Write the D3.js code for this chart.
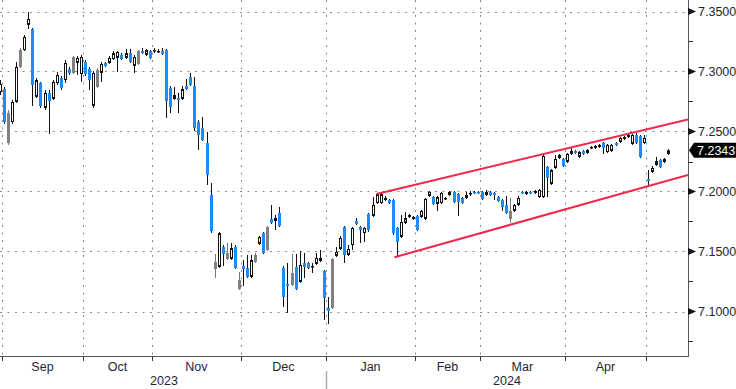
<!DOCTYPE html>
<html>
<head>
<meta charset="utf-8">
<script src="https://cdn.jsdelivr.net/npm/d3@7"></script>
<style>
  body { margin: 0; background: #fff; }
  svg { display: block; font-family: "Liberation Sans", Arial, sans-serif; }
</style>
</head>
<body>
<svg id="chart"></svg>
<script>
// daily candles, [open, high, low, close, kind]  kind: u = hollow, d = blue filled, g = gray filled
const firstIndex = -1;
const candles = [
  [7.2829,7.2929,7.2804,7.2896,"u"],
  [7.2854,7.2871,7.2563,7.2579,"d"],
  [7.2654,7.2679,7.2388,7.2404,"g"],
  [7.2579,7.2763,7.2563,7.2746,"u"],
  [7.2746,7.3079,7.2738,7.3038,"u"],
  [7.3179,7.3196,7.3029,7.3038,"g"],
  [7.3179,7.3304,7.3171,7.3288,"u"],
  [7.3388,7.3496,7.3354,7.3438,"u"],
  [7.3354,7.3363,7.2713,7.2888,"d"],
  [7.2788,7.2946,7.2779,7.2929,"u"],
  [7.2904,7.2913,7.2696,7.2713,"d"],
  [7.2696,7.2846,7.2679,7.2821,"u"],
  [7.2821,7.2846,7.2479,7.2754,"d"],
  [7.2771,7.2929,7.2763,7.2913,"u"],
  [7.2904,7.2996,7.2888,7.2971,"u"],
  [7.2946,7.2963,7.2846,7.2863,"d"],
  [7.2929,7.3096,7.2904,7.3071,"u"],
  [7.3021,7.3038,7.2971,7.2988,"d"],
  [7.3121,7.3129,7.2979,7.2988,"g"],
  [7.3071,7.3129,7.2971,7.3113,"u"],
  [7.2979,7.3138,7.2913,7.3121,"u"],
  [7.3079,7.3096,7.2963,7.2979,"d"],
  [7.3021,7.3038,7.2846,7.2929,"d"],
  [7.2713,7.3004,7.2696,7.2988,"u"],
  [7.3013,7.3029,7.2863,7.2871,"g"],
  [7.2988,7.3079,7.2913,7.3063,"u"],
  [7.3071,7.3079,7.3038,7.3046,"d"],
  [7.3071,7.3129,7.3063,7.3113,"u"],
  [7.3104,7.3171,7.3096,7.3154,"u"],
  [7.3113,7.3171,7.2996,7.3163,"u"],
  [7.3138,7.3154,7.3096,7.3104,"d"],
  [7.3113,7.3188,7.3104,7.3154,"u"],
  [7.3154,7.3188,7.3071,7.3079,"d"],
  [7.3046,7.3138,7.2988,7.3121,"u"],
  [7.3171,7.3179,7.3054,7.3063,"g"],
  [7.3171,7.3196,7.3146,7.3154,"d"],
  [7.3138,7.3188,7.3129,7.3179,"u"],
  [7.3171,7.3179,7.3104,7.3113,"d"],
  [7.3171,7.3196,7.3154,7.3179,"u"],
  [7.3163,7.3188,7.3154,7.3171,"u"],
  [7.3171,7.3196,7.3138,7.3146,"d"],
  [7.3179,7.3188,7.2613,7.2754,"d"],
  [7.2863,7.2879,7.2654,7.2704,"d"],
  [7.2771,7.2871,7.2763,7.2804,"u"],
  [7.2779,7.2821,7.2654,7.2763,"d"],
  [7.2771,7.2879,7.2763,7.2854,"u"],
  [7.2879,7.2938,7.2846,7.2854,"d"],
  [7.2954,7.2988,7.2879,7.2888,"d"],
  [7.2879,7.2954,7.2504,7.2529,"d"],
  [7.2579,7.2596,7.2346,7.2471,"d"],
  [7.2529,7.2621,7.2421,7.2429,"d"],
  [7.2404,7.2496,7.2054,7.2138,"d"],
  [7.1971,7.2071,7.1654,7.1671,"d"],
  [7.1413,7.1479,7.1279,7.1354,"g"],
  [7.1371,7.1663,7.1363,7.1654,"u"],
  [7.1538,7.1554,7.1379,7.1479,"d"],
  [7.1488,7.1571,7.1429,7.1438,"g"],
  [7.1438,7.1571,7.1429,7.1529,"u"],
  [7.1538,7.1554,7.1354,7.1363,"d"],
  [7.1263,7.1329,7.1179,7.1188,"g"],
  [7.1379,7.1429,7.1213,7.1354,"d"],
  [7.1363,7.1471,7.1279,7.1288,"d"],
  [7.1288,7.1471,7.1279,7.1429,"u"],
  [7.1471,7.1488,7.1404,7.1413,"g"],
  [7.1563,7.1629,7.1554,7.1621,"u"],
  [7.1654,7.1663,7.1479,7.1488,"d"],
  [7.1704,7.1713,7.1504,7.1513,"g"],
  [7.1771,7.1888,7.1729,7.1738,"d"],
  [7.1754,7.1804,7.1679,7.1779,"u"],
  [7.1821,7.1871,7.1704,7.1713,"d"],
  [7.1363,7.1379,7.1038,7.1121,"d"],
  [7.1229,7.1404,7.0988,7.1213,"d"],
  [7.1321,7.1479,7.1213,7.1221,"g"],
  [7.1371,7.1479,7.1179,7.1188,"d"],
  [7.1246,7.1504,7.1238,7.1388,"u"],
  [7.1404,7.1488,7.1279,7.1371,"d"],
  [7.1404,7.1413,7.1354,7.1363,"d"],
  [7.1371,7.1404,7.1321,7.1379,"u"],
  [7.1396,7.1488,7.1388,7.1446,"u"],
  [7.1421,7.1513,7.1413,7.1446,"u"],
  [7.1338,7.1346,7.0929,7.1113,"d"],
  [7.1029,7.1121,7.0896,7.1004,"d"],
  [7.1438,7.1446,7.1021,7.1029,"g"],
  [7.1463,7.1538,7.1454,7.1496,"u"],
  [7.1521,7.1629,7.1513,7.1613,"u"],
  [7.1704,7.1713,7.1404,7.1471,"d"],
  [7.1471,7.1554,7.1463,7.1521,"u"],
  [7.1554,7.1704,7.1513,7.1696,"u"],
  [7.1754,7.1779,7.1721,7.1729,"d"],
  [7.1704,7.1713,7.1571,7.1679,"d"],
  [7.1654,7.1704,7.1579,7.1696,"u"],
  [7.1813,7.1821,7.1663,7.1679,"d"],
  [7.1796,7.1954,7.1788,7.1888,"u"],
  [7.1904,7.1988,7.1896,7.1979,"u"],
  [7.1904,7.1988,7.1896,7.1979,"u"],
  [7.1929,7.1963,7.1921,7.1946,"u"],
  [7.1929,7.1938,7.1896,7.1904,"d"],
  [7.1929,7.1938,7.1638,7.1654,"d"],
  [7.1696,7.1704,7.1454,7.1579,"d"],
  [7.1621,7.1804,7.1613,7.1746,"u"],
  [7.1738,7.1829,7.1729,7.1779,"u"],
  [7.1788,7.1813,7.1779,7.1804,"u"],
  [7.1771,7.1796,7.1763,7.1788,"u"],
  [7.1796,7.1804,7.1671,7.1679,"d"],
  [7.1788,7.1846,7.1779,7.1838,"u"],
  [7.1771,7.1946,7.1763,7.1938,"u"],
  [7.1963,7.2004,7.1954,7.1996,"u"],
  [7.1954,7.1963,7.1888,7.1896,"d"],
  [7.1896,7.1963,7.1838,7.1954,"u"],
  [7.1904,7.1996,7.1896,7.1988,"u"],
  [7.1938,7.1954,7.1929,7.1946,"u"],
  [7.1971,7.2004,7.1963,7.1996,"u"],
  [7.1996,7.2004,7.1904,7.1913,"d"],
  [7.1979,7.1988,7.1796,7.1913,"d"],
  [7.1946,7.1954,7.1896,7.1904,"d"],
  [7.1946,7.1996,7.1938,7.1971,"u"],
  [7.1979,7.2004,7.1963,7.1988,"u"],
  [7.1996,7.2004,7.1979,7.1988,"d"],
  [7.1996,7.2004,7.1979,7.1988,"d"],
  [7.1996,7.2004,7.1929,7.1938,"d"],
  [7.1971,7.2013,7.1963,7.1996,"u"],
  [7.1996,7.2004,7.1963,7.1971,"d"],
  [7.1988,7.1996,7.1929,7.1971,"d"],
  [7.1954,7.1963,7.1913,7.1921,"d"],
  [7.1929,7.1938,7.1838,7.1871,"d"],
  [7.1888,7.1963,7.1813,7.1821,"d"],
  [7.1838,7.1946,7.1738,7.1771,"g"],
  [7.1838,7.1896,7.1829,7.1888,"u"],
  [7.1888,7.1963,7.1879,7.1946,"u"],
  [7.1996,7.2004,7.1979,7.1988,"d"],
  [7.1979,7.2004,7.1971,7.1996,"u"],
  [7.1996,7.2004,7.1979,7.1988,"d"],
  [7.1988,7.2013,7.1979,7.2004,"u"],
  [7.1954,7.2021,7.1946,7.2013,"u"],
  [7.1954,7.2304,7.1946,7.2296,"u"],
  [7.2204,7.2213,7.1954,7.2113,"d"],
  [7.2063,7.2188,7.2054,7.2179,"u"],
  [7.2196,7.2304,7.2188,7.2271,"u"],
  [7.2279,7.2313,7.2271,7.2304,"u"],
  [7.2271,7.2279,7.2204,7.2213,"d"],
  [7.2246,7.2321,7.2238,7.2313,"u"],
  [7.2313,7.2363,7.2304,7.2338,"u"],
  [7.2338,7.2346,7.2313,7.2321,"d"],
  [7.2288,7.2338,7.2279,7.2329,"u"],
  [7.2338,7.2346,7.2304,7.2313,"d"],
  [7.2321,7.2354,7.2313,7.2346,"u"],
  [7.2363,7.2379,7.2354,7.2371,"u"],
  [7.2363,7.2388,7.2354,7.2379,"u"],
  [7.2371,7.2396,7.2363,7.2388,"u"],
  [7.2404,7.2413,7.2313,7.2363,"d"],
  [7.2329,7.2396,7.2321,7.2388,"u"],
  [7.2338,7.2396,7.2329,7.2388,"u"],
  [7.2404,7.2413,7.2379,7.2388,"d"],
  [7.2413,7.2454,7.2404,7.2446,"u"],
  [7.2438,7.2463,7.2429,7.2454,"u"],
  [7.2454,7.2479,7.2446,7.2471,"u"],
  [7.2396,7.2479,7.2388,7.2471,"u"],
  [7.2471,7.2488,7.2396,7.2404,"d"],
  [7.2463,7.2471,7.2279,7.2288,"d"],
  [7.2404,7.2471,7.2396,7.2446,"u"],
  [7.2104,7.2179,7.2046,7.2088,"d"],
  [7.2163,7.2213,7.2154,7.2196,"u"],
  [7.2221,7.2288,7.2213,7.2254,"u"],
  [7.2263,7.2271,7.2196,7.2204,"d"],
  [7.2246,7.2279,7.2238,7.2271,"u"],
  [7.2313,7.2354,7.2304,7.2343,"u"]
];

// month boundaries, as index of the first trading day of each month
const monthNames = ["Sep", "Oct", "Nov", "Dec", "Jan", "Feb", "Mar", "Apr"];
const monthStart = [0, 20, 37, 59, 80, 102, 118, 139, 159];
const yearNames = ["2023", "2024"];
const yearStart = [0, 80];
const lastBarSlot = 168.9; // right edge of the plot, in bars

const priceTicks = [7.10, 7.15, 7.20, 7.25, 7.30, 7.35];
const minorTicks = [7.075, 7.125, 7.175, 7.225, 7.275, 7.325];
const lastPrice = 7.2343;

// trend channel drawn on the chart: [bar index, price]
const channelUpper = [[92, 7.1979], [168.9, 7.2600]];
const channelLower = [[96.4, 7.1452], [168.9, 7.2138]];

const width = 736, height = 389;
const plotRight = 688, plotBottom = 356;

const svg = d3.select("#chart").attr("width", width).attr("height", height);

const x = d3.scaleLinear().domain([-0.5, lastBarSlot]).range([2, plotRight]);
const y = d3.scaleLinear().domain([7.10, 7.35]).range([311.5, 11.5]);

svg.append("defs").append("clipPath").attr("id", "plotClip")
  .append("rect").attr("x", 0).attr("y", 0).attr("width", plotRight).attr("height", plotBottom);

// dotted grid
const grid = svg.append("g").attr("stroke", "#8c8c8c").attr("stroke-dasharray", "2,5.5").attr("stroke-width", 1);
grid.selectAll("line.h").data(priceTicks).join("line")
  .attr("x1", 0).attr("x2", plotRight)
  .attr("y1", (d) => Math.round(y(d)) + 0.5).attr("y2", (d) => Math.round(y(d)) + 0.5);
grid.selectAll("line.v").data(monthStart).join("line")
  .attr("x1", (d) => Math.round(x(d - 0.5)) + 0.5).attr("x2", (d) => Math.round(x(d - 0.5)) + 0.5)
  .attr("y1", 0).attr("y2", plotBottom);

// candles
const bars = candles.map((d, k) => ({ i: firstIndex + k, o: d[0], h: d[1], l: d[2], c: d[3], kind: d[4] }));
const cg = svg.append("g").attr("clip-path", "url(#plotClip)");

cg.selectAll("line.wick").data(bars).join("line")
  .attr("class", "wick")
  .attr("x1", (d) => Math.round(x(d.i)) + 0.5).attr("x2", (d) => Math.round(x(d.i)) + 0.5)
  .attr("y1", (d) => y(d.h)).attr("y2", (d) => y(d.l))
  .attr("stroke", (d) => (d.kind === "g" ? "#7a7a7a" : "#111"))
  .attr("stroke-width", 1);

cg.selectAll("rect.body").data(bars).join("rect")
  .attr("class", "body")
  .attr("x", (d) => Math.round(x(d.i)) - (d.kind === "u" ? 0.5 : 1))
  .attr("width", (d) => (d.kind === "u" ? 2 : 3))
  .attr("y", (d) => {
    const top = y(Math.max(d.o, d.c));
    return d.kind === "u" ? top + 0.5 : top;
  })
  .attr("height", (d) => {
    const h = Math.abs(y(d.o) - y(d.c));
    return d.kind === "u" ? Math.max(h - 1, 0.5) : Math.max(h, 1.5);
  })
  .attr("fill", (d) => (d.kind === "u" ? "#fff" : d.kind === "d" ? "#1a8cff" : "#808080"))
  .attr("stroke", (d) => (d.kind === "u" ? "#111" : "none"))
  .attr("stroke-width", 1);

// channel lines
const line = d3.line().x((d) => x(d[0])).y((d) => y(d[1]));
svg.append("g").attr("clip-path", "url(#plotClip)")
  .selectAll("path").data([channelUpper, channelLower]).join("path")
  .attr("d", line)
  .attr("fill", "none")
  .attr("stroke", "#f0284a")
  .attr("stroke-width", 2);

// axis frame
svg.append("line").attr("x1", plotRight + 0.5).attr("x2", plotRight + 0.5)
  .attr("y1", 0).attr("y2", plotBottom + 1).attr("stroke", "#555");
svg.append("line").attr("x1", 0).attr("x2", plotRight + 1)
  .attr("y1", plotBottom + 0.5).attr("y2", plotBottom + 0.5).attr("stroke", "#555").attr("stroke-width", 1.2);

// right price axis
const ya = svg.append("g");
ya.selectAll("path.tri").data(priceTicks).join("path")
  .attr("d", (d) => {
    const ty = y(d);
    return `M${plotRight},${ty - 3.5}L${plotRight + 8},${ty}L${plotRight},${ty + 3.5}Z`;
  })
  .attr("fill", "#111");
ya.selectAll("line.minor").data(minorTicks).join("line")
  .attr("x1", plotRight).attr("x2", plotRight + 5)
  .attr("y1", (d) => Math.round(y(d)) + 0.5).attr("y2", (d) => Math.round(y(d)) + 0.5)
  .attr("stroke", "#333");
ya.selectAll("text").data(priceTicks).join("text")
  .attr("x", plotRight + 10)
  .attr("y", (d) => y(d))
  .attr("dy", "0.36em")
  .attr("font-size", 12.5)
  .attr("fill", "#1e2633")
  .text((d) => d.toFixed(4));

// last price tag
const ly = y(lastPrice);
svg.append("path")
  .attr("d", `M${plotRight + 1},${ly}L${plotRight + 6},${ly - 7.5}L${width},${ly - 7.5}L${width},${ly + 7.5}L${plotRight + 6},${ly + 7.5}Z`)
  .attr("fill", "#000");
svg.append("text")
  .attr("x", plotRight + 9).attr("y", ly).attr("dy", "0.36em")
  .attr("font-size", 12.5).attr("fill", "#fff")
  .text(lastPrice.toFixed(4));

// bottom month axis
const xa = svg.append("g");
xa.selectAll("line").data(monthStart).join("line")
  .attr("x1", (d) => Math.round(x(d - 0.5)) + 0.5).attr("x2", (d) => Math.round(x(d - 0.5)) + 0.5)
  .attr("y1", plotBottom).attr("y2", plotBottom + 5)
  .attr("stroke", "#333");
xa.selectAll("text").data(monthNames).join("text")
  .attr("x", (d, k) => (x(monthStart[k] - 0.5) + x(monthStart[k + 1] - 0.5)) / 2)
  .attr("y", 371)
  .attr("text-anchor", "middle")
  .attr("font-size", 12.5)
  .attr("fill", "#1e2633")
  .text((d) => d);

const yearEnds = [yearStart[1], lastBarSlot + 0.5];
svg.selectAll("text.year").data(yearNames).join("text")
  .attr("class", "year")
  .attr("x", (d, k) => (x(yearStart[k] - 0.5) + x(yearEnds[k] - 0.5)) / 2)
  .attr("y", 385)
  .attr("text-anchor", "middle")
  .attr("font-size", 12.5)
  .attr("fill", "#1e2633")
  .text((d) => d);

svg.append("line")
  .attr("x1", Math.round(x(yearStart[1] - 0.5)) + 0.5).attr("x2", Math.round(x(yearStart[1] - 0.5)) + 0.5)
  .attr("y1", 371).attr("y2", height)
  .attr("stroke", "#aaa").attr("stroke-width", 1.5);
</script>
</body>
</html>
